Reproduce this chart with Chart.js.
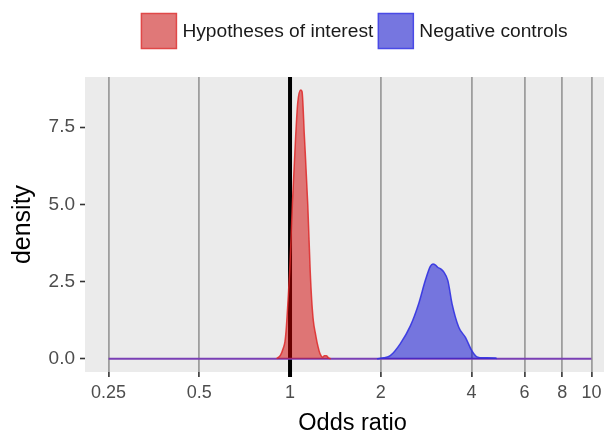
<!DOCTYPE html>
<html><head><meta charset="utf-8">
<script src="https://cdn.jsdelivr.net/npm/chart.js@4.4.0/dist/chart.umd.min.js"></script>
<style>
html,body{margin:0;padding:0;overflow:hidden;background:#fff;width:604px;height:434px}
#wrap{width:620px;height:434px;position:relative}
</style>
</head><body><div id="wrap"><canvas id="c" width="620" height="434"></canvas></div>
<script>
// ---- data ----
const seriesNames = ['Hypotheses of interest', 'Negative controls'];
const xTicks = [0.25, 0.5, 1, 2, 4, 6, 8, 10];
const xTickLabels = ['0.25', '0.5', '1', '2', '4', '6', '8', '10'];
const yTicks = [0, 2.5, 5, 7.5];
const yTickLabels = ['0.0', '2.5', '5.0', '7.5'];
const hypX = [0.903, 0.930, 0.950, 0.962, 0.972, 0.985, 0.998, 1.018, 1.044, 1.061, 1.085, 1.096, 1.116, 1.145, 1.166, 1.180, 1.195, 1.215, 1.232, 1.258, 1.285, 1.300, 1.320, 1.340, 1.365];
const hypY = [0, 0.12, 0.35, 0.55, 1.0, 1.9, 2.9, 5.0, 7.2, 8.3, 8.7, 8.65, 7.2, 5.0, 2.9, 1.9, 1.23, 0.8, 0.49, 0.16, 0.05, 0.1, 0.1, 0.03, 0];
const negX = [1.943, 2.05, 2.151, 2.32, 2.51, 2.67, 2.81, 2.92, 2.98, 3.04, 3.09, 3.17, 3.24, 3.34, 3.45, 3.63, 3.82, 4.01, 4.17, 4.4, 4.81, 4.85];
const negY = [0, 0.03, 0.10, 0.48, 1.07, 1.77, 2.53, 2.99, 3.07, 3.03, 2.96, 2.9, 2.80, 2.53, 1.77, 1.02, 0.69, 0.26, 0.06, 0.03, 0.02, 0];
const baseX = [0.25, 10];
const baseY = [0, 0];
const refOddsRatio = 1;

const pts = (xs, ys) => xs.map((x, i) => ({x: x, y: ys[i]}));
const FONT = '"Liberation Sans", Arial, Helvetica, sans-serif';

const panelBg = {
  id: 'panelBg',
  beforeDraw(chart) {
    const a = chart.chartArea, ctx = chart.ctx;
    ctx.save();
    ctx.fillStyle = '#ebebeb';
    ctx.fillRect(a.left, a.top, a.right - a.left, a.bottom - a.top);
    ctx.restore();
  }
};
const refLine = {
  id: 'refLine',
  beforeDatasetsDraw(chart) {
    const a = chart.chartArea, ctx = chart.ctx;
    const px = chart.scales.x.getPixelForValue(refOddsRatio);
    ctx.save();
    ctx.strokeStyle = '#000';
    ctx.lineWidth = 4;
    ctx.beginPath();
    ctx.moveTo(px, a.top);
    ctx.lineTo(px, a.bottom + 5);
    ctx.stroke();
    ctx.restore();
  }
};
const legendFill = ['#e07878', '#7676e0'];
const legendStroke = ['#e04848', '#4a4ae6'];
const topLegend = {
  id: 'topLegend',
  afterDraw(chart) {
    const ctx = chart.ctx;
    ctx.save();
    ctx.font = '19.2px ' + FONT;
    const box = 35, gapT = 6, gapI = 5;
    const items = seriesNames.map((n, i) => ({n: n, w: ctx.measureText(n).width, f: legendFill[i], s: legendStroke[i]}));
    const total = items.reduce((a, it) => a + box + gapT + it.w, 0) + gapI * (items.length - 1);
    let x = 354.5 - total / 2;
    const y = 13.5;
    items.forEach(it => {
      ctx.fillStyle = it.f;
      ctx.fillRect(x, y, box, box);
      ctx.strokeStyle = it.s;
      ctx.lineWidth = 1.5;
      ctx.strokeRect(x, y, box, box);
      x += box + gapT;
      ctx.fillStyle = '#1a1a1a';
      ctx.textBaseline = 'middle';
      ctx.textAlign = 'left';
      ctx.fillText(it.n, x, y + box / 2 + 1);
      x += it.w + gapI;
    });
    ctx.restore();
  }
};

new Chart(document.getElementById('c'), {
  type: 'line',
  data: {
    datasets: [
      {label: seriesNames[0], data: pts(hypX, hypY), borderColor: 'rgba(222,40,40,0.85)', backgroundColor: 'rgba(210,0,0,0.5)', borderWidth: 1.5, fill: 'origin', pointRadius: 0, cubicInterpolationMode: 'monotone'},
      {label: seriesNames[1], data: pts(negX, negY), borderColor: 'rgba(50,50,225,0.9)', backgroundColor: 'rgba(0,0,210,0.5)', borderWidth: 1.5, fill: 'origin', pointRadius: 0, cubicInterpolationMode: 'monotone'},
      {label: 'baseline', data: pts(baseX, baseY), borderColor: '#7a3fb5', borderWidth: 2, fill: false, pointRadius: 0}
    ]
  },
  options: {
    responsive: false,
    animation: false,
    layout: {padding: {top: 77, left: 0, right: 0, bottom: 0}},
    plugins: {legend: {display: false}, tooltip: {enabled: false}},
    scales: {
      x: {
        type: 'logarithmic',
        min: 0.2088, max: 12.44,
        afterBuildTicks: s => { s.ticks = xTicks.map(v => ({value: v})); },
        afterFit: s => { s.height = 62; },
        ticks: {
          autoSkip: false, maxRotation: 0, padding: 5,
          color: '#4d4d4d', font: {family: FONT, size: 18},
          callback: v => xTickLabels[xTicks.indexOf(v)]
        },
        grid: {color: '#9e9e9e', lineWidth: 1.8, tickColor: '#333', tickLength: 5, tickWidth: 1.6},
        border: {display: false},
        title: {display: true, text: 'Odds ratio', color: '#000', font: {family: FONT, size: 23.5}, padding: {top: 0, bottom: -4}}
      },
      y: {
        type: 'linear',
        min: -0.43, max: 9.12,
        afterBuildTicks: s => { s.ticks = yTicks.map(v => ({value: v})); },
        afterFit: s => { s.width = 85; },
        ticks: {
          padding: 5, color: '#4d4d4d', font: {family: FONT, size: 19},
          callback: v => yTickLabels[yTicks.indexOf(v)]
        },
        grid: {drawOnChartArea: false, tickColor: '#333', tickLength: 5, tickWidth: 1.6},
        border: {display: false},
        title: {display: true, text: 'density', color: '#000', font: {family: FONT, size: 25}, padding: {top: 8, bottom: 0}}
      }
    }
  },
  plugins: [panelBg, refLine, topLegend]
});
</script>
</body></html>
